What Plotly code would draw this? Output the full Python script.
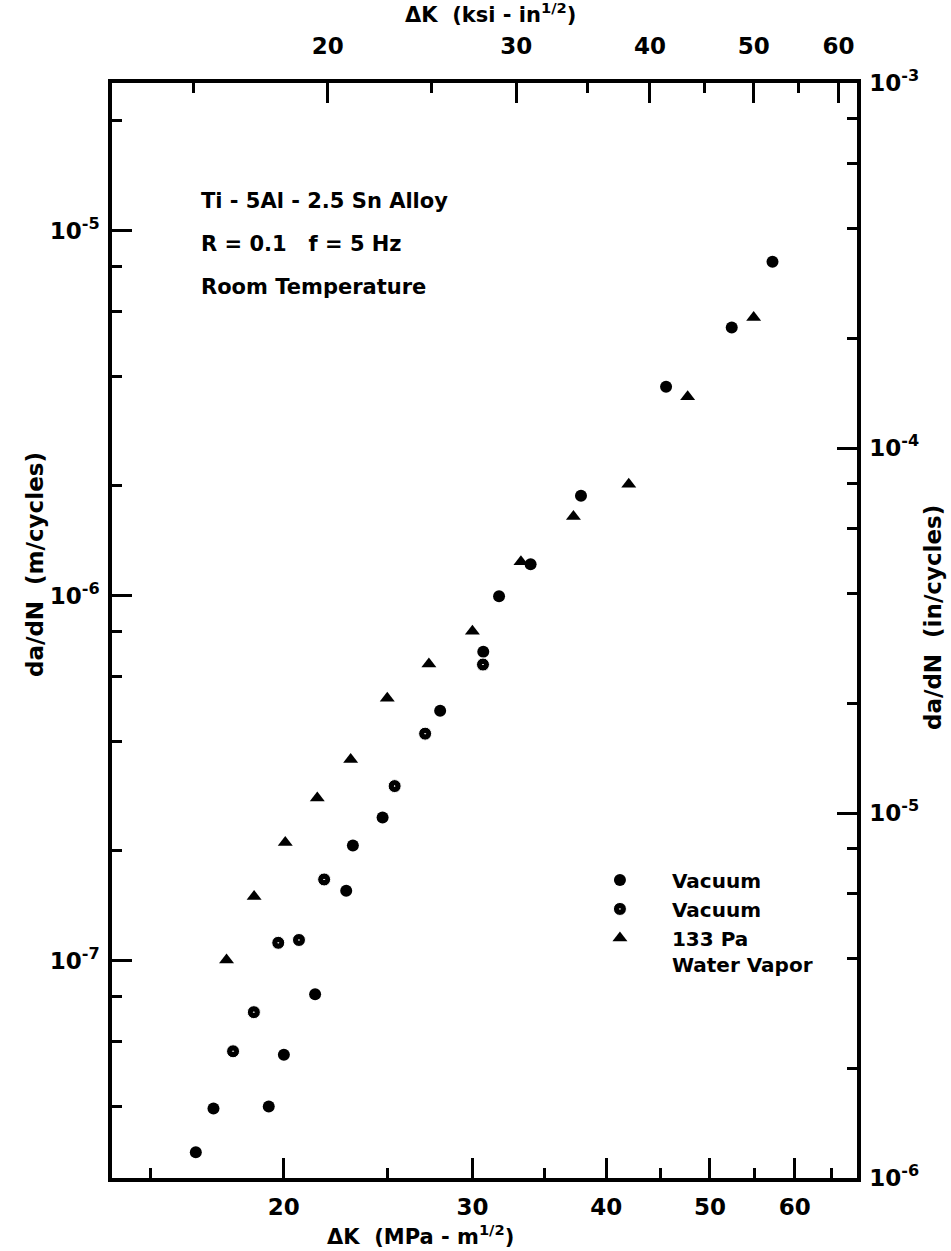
import math
import plotly.graph_objects as go

# ---------------- data ----------------
vac1_K = [16.55, 17.19, 19.36, 20.0, 21.39, 22.87, 23.20, 24.73, 27.99,
          30.71, 31.77, 34.0, 37.89, 45.5, 52.4, 57.2]
vac1_dadn = [2.99e-8, 3.94e-8, 3.99e-8, 5.53e-8, 8.1e-8, 1.555e-7, 2.07e-7,
             2.47e-7, 4.84e-7, 7.02e-7, 9.97e-7, 1.22e-6, 1.88e-6, 3.74e-6,
             5.43e-6, 8.22e-6]

vac2_K = [17.93, 18.75, 19.76, 20.66, 21.81, 25.38, 27.1, 30.69]
vac2_dadn = [5.65e-8, 7.23e-8, 1.12e-7, 1.14e-7, 1.67e-7, 3.01e-7, 4.19e-7,
             6.48e-7]

wv_K = [17.68, 18.76, 20.06, 21.49, 23.09, 24.98, 27.32, 30.0, 33.3, 37.28,
        41.99, 47.66, 54.93]
wv_dadn = [1.005e-7, 1.50e-7, 2.11e-7, 2.79e-7, 3.56e-7, 5.24e-7, 6.50e-7,
           7.99e-7, 1.24e-6, 1.65e-6, 2.02e-6, 3.51e-6, 5.79e-6]

series_names = ["Vacuum", "Vacuum", "133 Pa<br>Water Vapor"]

# axis extents and tick values
K_range_mpa = [13.82, 68.6]
dadn_range_m = [2.54e-8, 2.54e-5]
MPA_PER_KSI = 1.0988
M_PER_IN = 0.0254

x_major = [20, 30, 40, 50, 60]
x_minor = [15, 25, 35, 45, 55, 65]
ksi_major = [20, 30, 40, 50, 60]
ksi_minor = [15, 25, 35, 45, 55]
y_major = [1e-7, 1e-6, 1e-5]
y_major_text = ["10<sup>-7</sup>", "10<sup>-6</sup>", "10<sup>-5</sup>"]
y_minor = [m * 10.0 ** e for e in (-8, -7, -6, -5) for m in (2, 4, 6, 8)]
y2_major = [1e-6, 1e-5, 1e-4, 1e-3]
y2_major_text = ["10<sup>-6</sup>", "10<sup>-5</sup>", "10<sup>-4</sup>", "10<sup>-3</sup>"]
y2_minor = [m * 10.0 ** e for e in (-6, -5, -4) for m in (2, 4, 6, 8)]

FONT = "DejaVu Sans"
BLACK = "black"

fig = go.Figure()
fig.add_trace(go.Scatter(
    x=vac1_K, y=vac1_dadn, mode="markers", name=series_names[0],
    marker=dict(symbol="circle", size=12, color=BLACK, line=dict(width=0))))
fig.add_trace(go.Scatter(
    x=vac2_K, y=vac2_dadn, mode="markers", name=series_names[1],
    marker=dict(symbol="circle-dot", size=13, color=BLACK,
                line=dict(width=1, color="white"))))
fig.add_trace(go.Scatter(
    x=wv_K, y=wv_dadn, mode="markers", name=series_names[2],
    marker=dict(symbol="triangle-up", size=13, color=BLACK, line=dict(width=0))))

# the same water-vapour points expressed in the secondary units, invisible,
# so that the top (ksi) and right (in/cycle) axes are attached and drawn
fig.add_trace(go.Scatter(
    x=[k / MPA_PER_KSI for k in wv_K], y=wv_dadn, xaxis="x2", yaxis="y",
    mode="markers", marker=dict(opacity=0), showlegend=False, hoverinfo="skip"))
fig.add_trace(go.Scatter(
    x=wv_K, y=[d / M_PER_IN for d in wv_dadn], xaxis="x", yaxis="y2",
    mode="markers", marker=dict(opacity=0), showlegend=False, hoverinfo="skip"))

tickfont = dict(family=FONT, size=23, color=BLACK, weight="bold")
common = dict(type="log", showgrid=False, zeroline=False, showline=True,
              linecolor=BLACK, linewidth=3.5, ticks="inside", ticklen=20,
              tickwidth=3, tickcolor=BLACK, tickfont=tickfont, tickmode="array",
              autorange=False, fixedrange=True)
minor_style = dict(ticks="inside", ticklen=10, tickwidth=3, tickcolor=BLACK,
                   showgrid=False)

fig.update_layout(
    width=951, height=1251,
    margin=dict(l=112, r=94, t=83, b=73),
    paper_bgcolor="white", plot_bgcolor="white",
    font=dict(family=FONT, color=BLACK),
    xaxis=dict(**common,
               range=[math.log10(K_range_mpa[0]), math.log10(K_range_mpa[1])],
               tickvals=x_major, ticktext=[str(v) for v in x_major],
               minor=dict(**minor_style, tickvals=x_minor),
               ticklabelstandoff=6),
    xaxis2=dict(**common, overlaying="x", side="top", anchor="y",
                range=[math.log10(K_range_mpa[0] / MPA_PER_KSI),
                       math.log10(K_range_mpa[1] / MPA_PER_KSI)],
                tickvals=ksi_major, ticktext=[str(v) for v in ksi_major],
                minor=dict(**minor_style, tickvals=ksi_minor),
                ticklabelstandoff=16),
    yaxis=dict(**common,
               range=[math.log10(dadn_range_m[0]), math.log10(dadn_range_m[1])],
               tickvals=y_major, ticktext=y_major_text,
               minor=dict(**minor_style, tickvals=y_minor),
               ticklabelstandoff=4),
    yaxis2=dict(**common, overlaying="y", side="right", anchor="x",
                range=[math.log10(dadn_range_m[0] / M_PER_IN),
                       math.log10(dadn_range_m[1] / M_PER_IN)],
                tickvals=y2_major, ticktext=y2_major_text,
                minor=dict(**minor_style, tickvals=y2_minor),
                ticklabelstandoff=4),
    showlegend=True,
    legend=dict(x=0.612, y=0.29, xanchor="left", yanchor="top",
                bgcolor="rgba(0,0,0,0)", borderwidth=0,
                font=dict(family=FONT, size=20, color=BLACK, weight="bold"),
                itemwidth=94, tracegroupgap=0, valign="top"),
)

title_font = dict(family=FONT, size=21, color=BLACK, weight="bold")
side_font = dict(family=FONT, size=23, color=BLACK, weight="bold")
text_font = dict(family=FONT, size=21, color=BLACK, weight="bold")
annots = [
    dict(text="ΔK  (MPa - m<sup>1/2</sup>)", x=420, y=1235, textangle=0, font=title_font),
    dict(text="ΔK  (ksi - in<sup>1/2</sup>)", x=490, y=13, textangle=0, font=title_font),
    dict(text="da/dN  (m/cycles)", x=35, y=565, textangle=-90, font=side_font),
    dict(text="da/dN  (in/cycles)", x=933, y=618, textangle=-90, font=side_font),
]
for a in annots:
    fig.add_annotation(text=a["text"], xref="paper", yref="paper",
                       x=(a["x"] - 112) / 745, y=(1178 - a["y"]) / 1095,
                       xanchor="center", yanchor="middle", showarrow=False,
                       textangle=a["textangle"], font=a["font"])

info_lines = ["Ti - 5Al - 2.5 Sn Alloy", "R = 0.1   f = 5 Hz", "Room Temperature"]
for i, (line, ypix) in enumerate(zip(info_lines, [201, 244, 287])):
    fig.add_annotation(text=line, xref="paper", yref="paper",
                       x=(199 - 112) / 745, y=(1178 - ypix) / 1095,
                       xanchor="left", yanchor="middle", showarrow=False,
                       font=text_font)

fig.write_html("out.html")
